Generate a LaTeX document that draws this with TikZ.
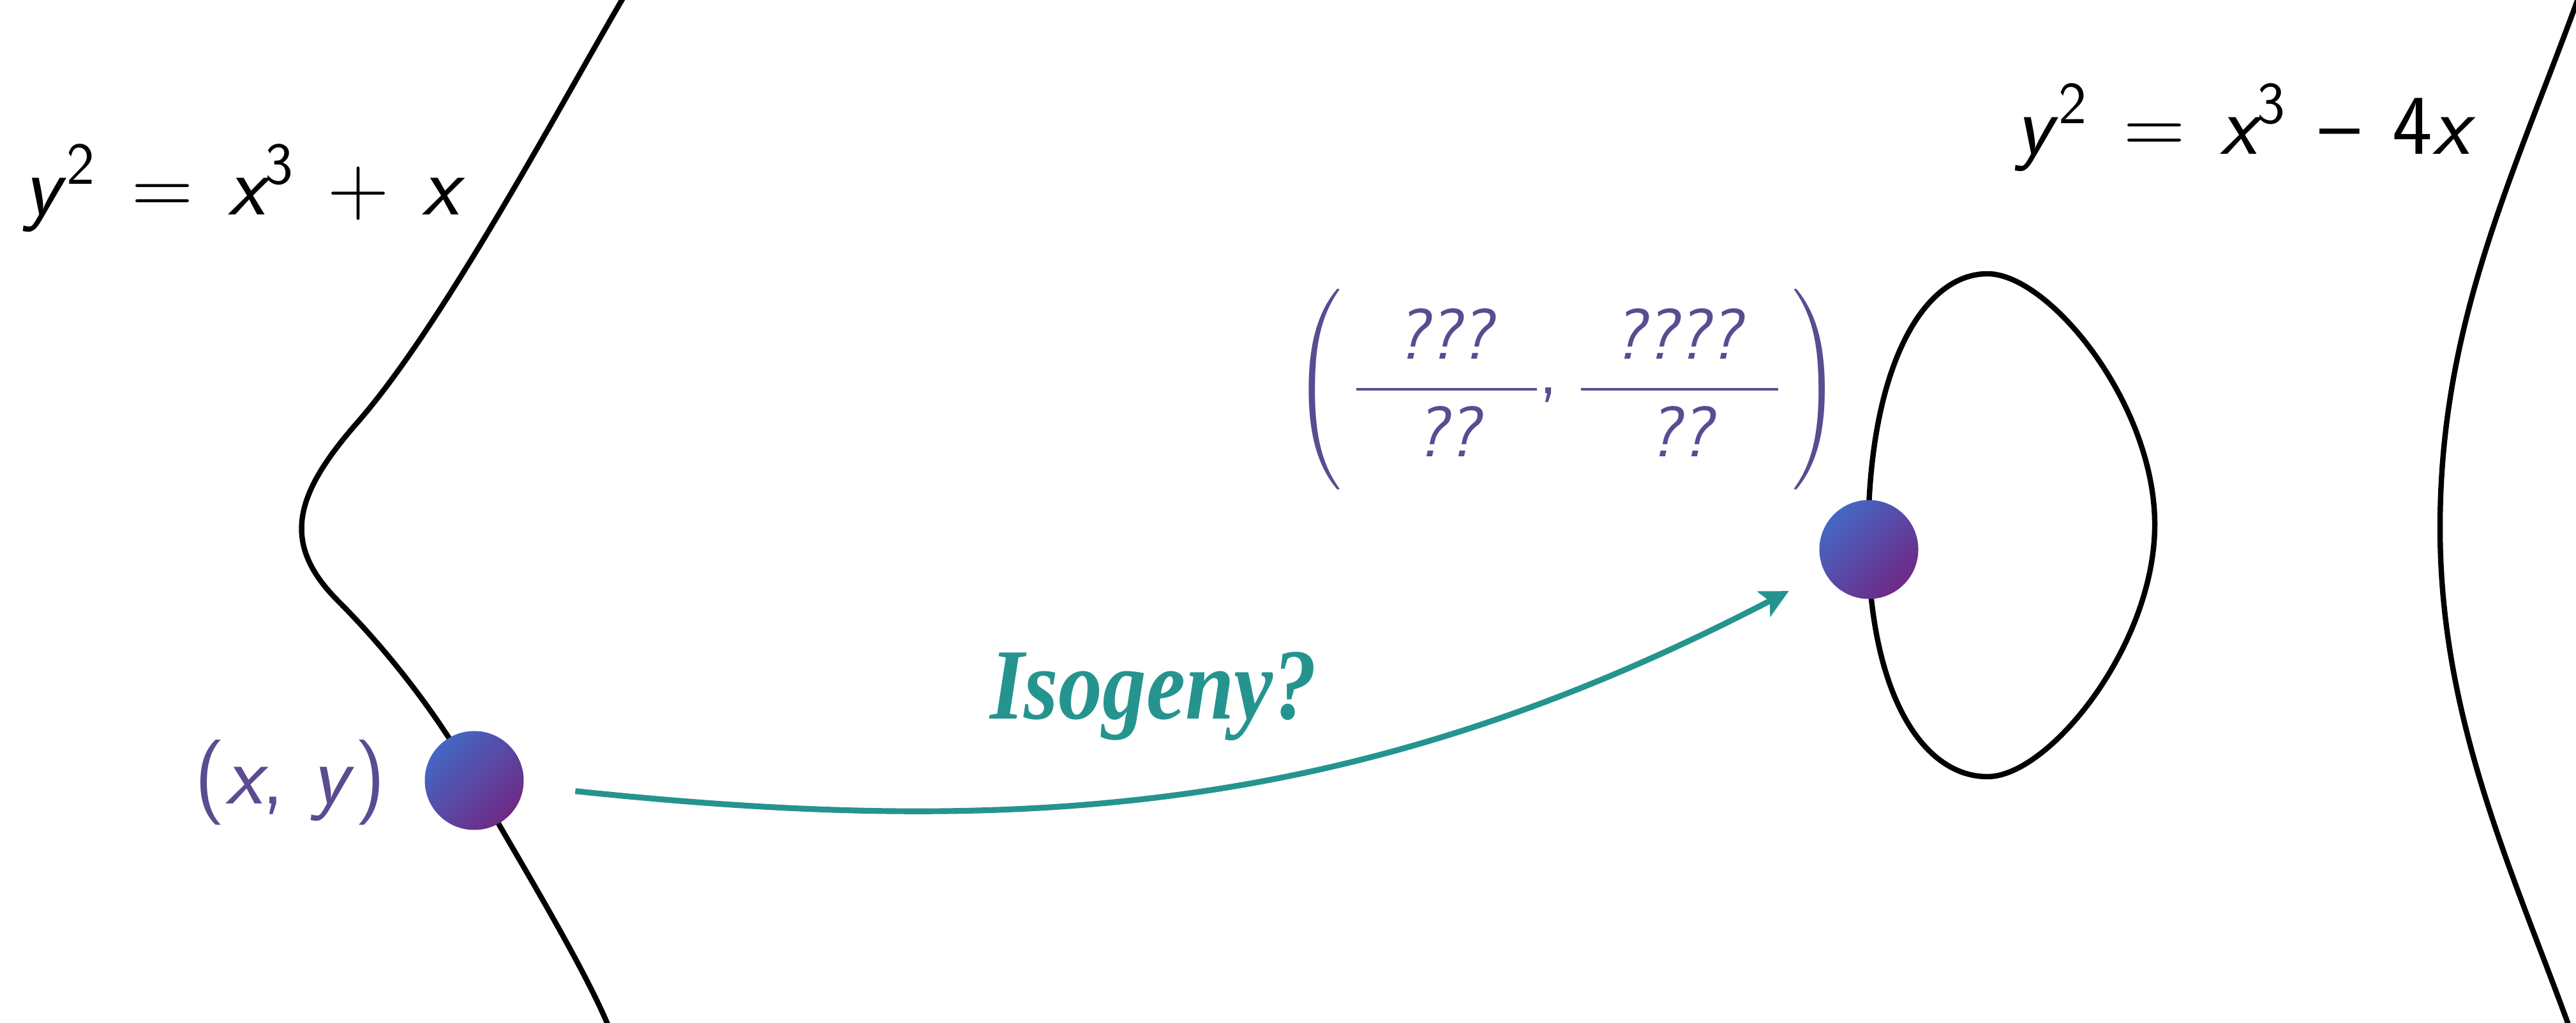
\RequirePackage{fix-cm}
\documentclass[tikz,border=0pt]{standalone}
\usepackage{amsmath}
\usepackage{graphicx}
\usepackage{fontspec}
\usepackage{tikz}
\usetikzlibrary{arrows.meta}
\newfontfamily\isofont{Liberation Serif}
\definecolor{ptlabel}{RGB}{91,75,145}
\definecolor{isoteal}{RGB}{37,148,143}
\definecolor{ptblue}{RGB}{68,103,196}
\definecolor{ptpurple}{RGB}{110,42,134}
\newcommand{\sv}[1]{\textsf{\itshape #1}}
\newcommand{\sn}[1]{\textsf{#1}}
\newcommand{\wide}{\thickmuskip=7.5mu\medmuskip=7mu}
\newcommand{\sminus}{\mathbin{\textsf{–}}}

\begin{document}
\begin{tikzpicture}[
		curve/.style={black,line width=2.4pt},
		pt/.style={circle,inner sep=0pt,minimum size=1.55cm,top color=ptblue,bottom color=ptpurple,shading angle=45},
		eqn/.style={inner sep=0pt,font=\fontsize{38}{44}\selectfont\sffamily},
		ptlab/.style={ptlabel,inner sep=0pt,font=\fontsize{38}{44}\selectfont\sffamily},
		isoarrow/.style={isoteal,line width=2.6pt,-{Stealth[length=0.44cm,width=0.44cm,inset=0.1cm]},shorten <=0.81cm,shorten >=0.63cm}
	]
				\useasboundingbox (0,0) rectangle (40.36,16.02);
				\clip (0,0) rectangle (40.36,16.02);
				% the curve y^2 = x^3 + x
				\draw[curve] (9.85,16.20) .. controls (8.90,14.60) and (7.00,11.00) .. (5.60,9.40)
					.. controls (4.60,8.26) and (4.40,7.50) .. (5.30,6.60)
					.. controls (6.20,5.70) and (7.00,4.60) .. (7.43,3.79)
					.. controls (7.86,2.98) and (9.10,1.00) .. (9.55,-0.10);
				% the curve y^2 = x^3 - 4x: the egg and the outer branch
				\draw[curve] (29.27,7.60) .. controls (29.27,10.20) and (30.10,11.73) .. (31.14,11.73)
					.. controls (32.10,11.73) and (33.76,9.70) .. (33.76,7.80)
					.. controls (33.76,5.90) and (32.10,3.85) .. (31.14,3.85)
					.. controls (30.10,3.85) and (29.27,5.20) .. cycle;
				\draw[curve] (40.45,16.20) .. controls (39.40,13.30) and (38.23,11.00) .. (38.23,7.75)
					.. controls (38.23,4.70) and (39.40,2.30) .. (40.30,-0.20);
				% equations
				\node[eqn,anchor=base west] (eqleft) at (0.36,12.65) {$\wide\sv{y\/}^{\sn{2}} = \sv{x}^{\sn{3}} + \sv{x}$};
				\node[eqn,anchor=base west] (eqright) at (31.57,13.60) {$\wide\sv{y\/}^{\sn{2}} = \sv{x}^{\sn{3}} \sminus \sn{4}\sv{x}$};
				% the two points
				\node[pt] (P) at (7.43,3.79) {};
				\node[pt] (Q) at (29.28,7.41) {};
				\node[ptlab,anchor=base east] (Plab) at (6.05,3.43) {(\textit{x}, \textit{y})};
				\node[ptlab,font=\fontsize{32}{38}\selectfont\sffamily] (Qlab) at (24.55,9.92) {$\delimitershortfall=-3pt\left(\,\dfrac{\makebox[2.83cm]{\sv{???}}}{\sv{??}}\raisebox{0.19em}{,}\;\dfrac{\makebox[3.09cm]{\sv{????}}}{\sv{??}}\,\right)$};
				% the map
				\draw[isoarrow] (P) to[out=-6,in=207.5] (Q);
				\node[isoteal,anchor=base west,font=\isofont\bfseries\itshape\fontsize{45}{50}\selectfont] (iso) at (15.39,4.75) {\scalebox{0.87}[1]{Isogeny?}};
			\end{tikzpicture}
\end{document}
